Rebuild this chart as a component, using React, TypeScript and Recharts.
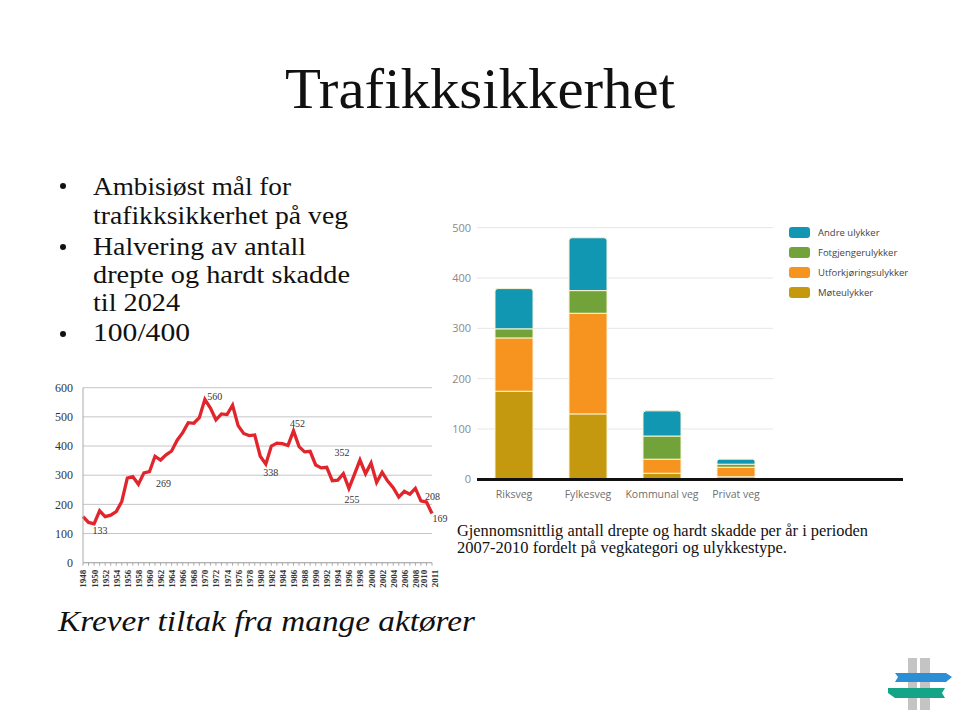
import React from 'react';
import {
  LineChart,
  Line,
  XAxis,
  YAxis,
  CartesianGrid,
  LabelList,
  BarChart,
  Bar,
} from 'recharts';

// Drepte i vegtrafikken per år
const years = [
  1948, 1949, 1950, 1951, 1952, 1953, 1954, 1955, 1956, 1957, 1958, 1959,
  1960, 1961, 1962, 1963, 1964, 1965, 1966, 1967, 1968, 1969, 1970, 1971,
  1972, 1973, 1974, 1975, 1976, 1977, 1978, 1979, 1980, 1981, 1982, 1983,
  1984, 1985, 1986, 1987, 1988, 1989, 1990, 1991, 1992, 1993, 1994, 1995,
  1996, 1997, 1998, 1999, 2000, 2001, 2002, 2003, 2004, 2005, 2006, 2007,
  2008, 2009, 2010, 2011,
];
const deaths = [
  158, 138, 133, 178, 158, 163, 175, 210, 290, 295, 269, 308,
  312, 365, 352, 370, 383, 420, 446, 480, 478, 497, 560, 530,
  490, 510, 508, 540, 470, 443, 436, 438, 365, 338, 400, 410,
  408, 402, 452, 398, 380, 382, 335, 325, 327, 281, 283, 305,
  255, 303, 352, 305, 342, 275, 310, 280, 257, 225, 245, 235,
  255, 212, 208, 169,
];
const yearLabels = [
  1948, 1950, 1952, 1954, 1956, 1958, 1960, 1962, 1964, 1966, 1968, 1970,
  1972, 1974, 1976, 1978, 1980, 1982, 1984, 1986, 1988, 1990, 1992, 1994,
  1996, 1998, 2000, 2002, 2004, 2006, 2008, 2010, 2011,
];
const markedYears = [1950, 1958, 1970, 1981, 1986, 1996, 1998, 2010, 2011];
const deathTicks = [0, 100, 200, 300, 400, 500, 600];

// Drepte og hardt skadde per år 2007-2010
const roadTypes = ['Riksveg', 'Fylkesveg', 'Kommunal veg', 'Privat veg'];
const moteulykker = [175, 130, 12, 5];
const utforkjoring = [106, 200, 28, 19];
const fotgjenger = [18, 45, 46, 6];
const andre = [80, 105, 50, 10];
const injuryTicks = [0, 100, 200, 300, 400, 500];

const deathData = years.map((year, i) => ({ year, deaths: deaths[i] }));
const roadData = roadTypes.map((road, i) => ({
  road,
  mote: moteulykker[i],
  utfor: utforkjoring[i],
  fotgj: fotgjenger[i],
  andre: andre[i],
}));

const legendItems = [
  { name: 'Andre ulykker', color: '#1297b3' },
  { name: 'Fotgjengerulykker', color: '#72a23a' },
  { name: 'Utforkjøringsulykker', color: '#f6941f' },
  { name: 'Møteulykker', color: '#c5990f' },
];

// label placement relative to the point
const labelOffset: Record<number, [number, number]> = {
  1950: [6, 7],
  1958: [25, -1],
  1970: [10, -3],
  1981: [5, 8],
  1986: [4, -7],
  1996: [3, 11],
  1998: [-18, -8],
  2010: [6, -6],
  2011: [8, 5],
};
// the last two year labels sit a bit apart
const yearNudge: Record<number, number> = { 2010: -3, 2011: 3 };

const serif = '"Liberation Serif", serif';
const sans = '"Open Sans", sans-serif';

function YearTick(props: any) {
  const { x, y, payload } = props;
  if (!yearLabels.includes(payload.value)) return null;
  const tx = x + 3.5 + (yearNudge[payload.value] || 0);
  return (
    <text
      x={tx}
      y={y + 2}
      transform={`rotate(-90, ${tx}, ${y + 2})`}
      textAnchor="end"
      fontSize={9}
      fontWeight="bold"
      fontFamily={serif}
      fill="#333"
    >
      {payload.value}
    </text>
  );
}

function PointLabel(props: any) {
  const { x, y, index } = props;
  const year = years[index];
  if (!markedYears.includes(year)) return null;
  const [dx, dy] = labelOffset[year];
  return (
    <text
      x={x + dx}
      y={y + dy}
      textAnchor="middle"
      dominantBaseline="central"
      fontSize={10}
      fontFamily={serif}
      fill="#333"
    >
      {deaths[index]}
    </text>
  );
}

function RoadLegend() {
  return (
    <div style={{ fontFamily: sans, fontSize: 9.5, color: '#444' }}>
      {legendItems.map((item) => (
        <div key={item.name} style={{ display: 'flex', alignItems: 'center', height: 20 }}>
          <div
            style={{
              width: 21,
              height: 11,
              borderRadius: 3,
              background: item.color,
              marginRight: 8,
            }}
          />
          <span>{item.name}</span>
        </div>
      ))}
    </div>
  );
}

function Logo() {
  return (
    <g>
      <rect x={908} y={658} width={9} height={52} fill="#c4c4c4" />
      <rect x={920} y={658} width={10} height={52} fill="#c4c4c4" />
      <polygon points="895,673 946,673 952,677 946,682 895,682 898,677" fill="#2b8fd6" />
      <polygon points="888,688 945,688 942,693 945,698 895,698 888,693" fill="#15a487" />
    </g>
  );
}

export default function App() {
  return (
    <div
      style={{
        position: 'absolute',
        left: 0,
        top: 0,
        width: 960,
        height: 717,
        background: '#fff',
        overflow: 'hidden',
      }}
    >
      <svg width={960} height={717} style={{ position: 'absolute', left: 0, top: 0 }}>
        <text x={285} y={108} fontFamily={serif} fontSize={58} fill="#111" textLength={390} lengthAdjust="spacingAndGlyphs">
          Trafikksikkerhet
        </text>

        <circle cx={63} cy={186} r={3} fill="#111" />
        <circle cx={63} cy={247} r={3} fill="#111" />
        <circle cx={63} cy={334} r={3} fill="#111" />
        <g fontFamily={serif} fontSize={26} fill="#111">
          <text x={93} y={195} textLength={198} lengthAdjust="spacingAndGlyphs">Ambisiøst mål for</text>
          <text x={93} y={224} textLength={255} lengthAdjust="spacingAndGlyphs">trafikksikkerhet på veg</text>
          <text x={93} y={255} textLength={213} lengthAdjust="spacingAndGlyphs">Halvering av antall</text>
          <text x={93} y={283} textLength={257} lengthAdjust="spacingAndGlyphs">drepte og hardt skadde</text>
          <text x={93} y={311} textLength={87} lengthAdjust="spacingAndGlyphs">til 2024</text>
          <text x={93} y={341} textLength={97} lengthAdjust="spacingAndGlyphs">100/400</text>
        </g>

        <g fontFamily={serif} fontSize={16} fill="#111">
          <text x={457} y={536} textLength={411} lengthAdjust="spacingAndGlyphs">
            Gjennomsnittlig antall drepte og hardt skadde per år i perioden
          </text>
          <text x={457} y={553} textLength={330} lengthAdjust="spacingAndGlyphs">
            2007-2010 fordelt på vegkategori og ulykkestype.
          </text>
        </g>

        <text
          x={58}
          y={631}
          fontFamily={serif}
          fontStyle="italic"
          fontSize={29}
          fill="#111"
          textLength={417}
          lengthAdjust="spacingAndGlyphs"
        >
          Krever tiltak fra mange aktører
        </text>

        <Logo />
      </svg>

      <div style={{ position: 'absolute', left: 40, top: 375 }}>
        <LineChart
          width={410}
          height={225}
          data={deathData}
          margin={{ top: 12.7, right: 18, bottom: 0, left: 0 }}
        >
          <CartesianGrid vertical={false} stroke="#c6c6c6" />
          <XAxis
            dataKey="year"
            type="number"
            domain={[1948, 2011]}
            ticks={years}
            interval={0}
            tick={<YearTick />}
            tickSize={3}
            stroke="#aaa"
            height={37.3}
          />
          <YAxis
            domain={[0, 600]}
            ticks={deathTicks}
            width={43}
            tickLine={false}
            stroke="#aaa"
            tickMargin={4}
            tick={{ fontSize: 12, fontFamily: serif, fill: '#333' }}
          />
          <Line
            type="linear"
            dataKey="deaths"
            stroke="#e1252c"
            strokeWidth={3.3}
            dot={false}
            isAnimationActive={false}
          >
            <LabelList dataKey="deaths" content={<PointLabel />} />
          </Line>
        </LineChart>
      </div>

      <div style={{ position: 'absolute', left: 440, top: 215 }}>
        <BarChart
          width={470}
          height={295}
          data={roadData}
          margin={{ top: 12.7, right: 137, bottom: 0, left: 0 }}
          barSize={38}
        >
          <CartesianGrid vertical={false} stroke="#e6e6e6" />
          <XAxis
            dataKey="road"
            axisLine={false}
            tickLine={false}
            interval={0}
            tickMargin={5}
            height={30.7}
            tick={{ fontSize: 10.5, fontFamily: sans, fill: '#6f6f6f' }}
          />
          <YAxis
            domain={[0, 500]}
            ticks={injuryTicks}
            axisLine={false}
            tickLine={false}
            tickSize={4}
            tickMargin={2}
            width={37}
            tick={{ fontSize: 11, fontFamily: sans, fill: '#8a8a8a' }}
          />
          <Bar dataKey="mote" name="Møteulykker" stackId="a" fill="#c5990f" stroke="#fbf3d2" strokeWidth={1} isAnimationActive={false} />
          <Bar dataKey="utfor" name="Utforkjøringsulykker" stackId="a" fill="#f6941f" stroke="#fbf3d2" strokeWidth={1} isAnimationActive={false} />
          <Bar dataKey="fotgj" name="Fotgjengerulykker" stackId="a" fill="#72a23a" stroke="#fbf3d2" strokeWidth={1} isAnimationActive={false} />
          <Bar dataKey="andre" name="Andre ulykker" stackId="a" fill="#1297b3" stroke="#fbf3d2" strokeWidth={1} radius={[3, 3, 0, 0]} isAnimationActive={false} />
        </BarChart>
      </div>
      <div style={{ position: 'absolute', left: 789, top: 222 }}>
        <RoadLegend />
      </div>
      <div
        style={{
          position: 'absolute',
          left: 477,
          top: 478,
          width: 426,
          height: 2.5,
          background: '#111',
        }}
      />
    </div>
  );
}
